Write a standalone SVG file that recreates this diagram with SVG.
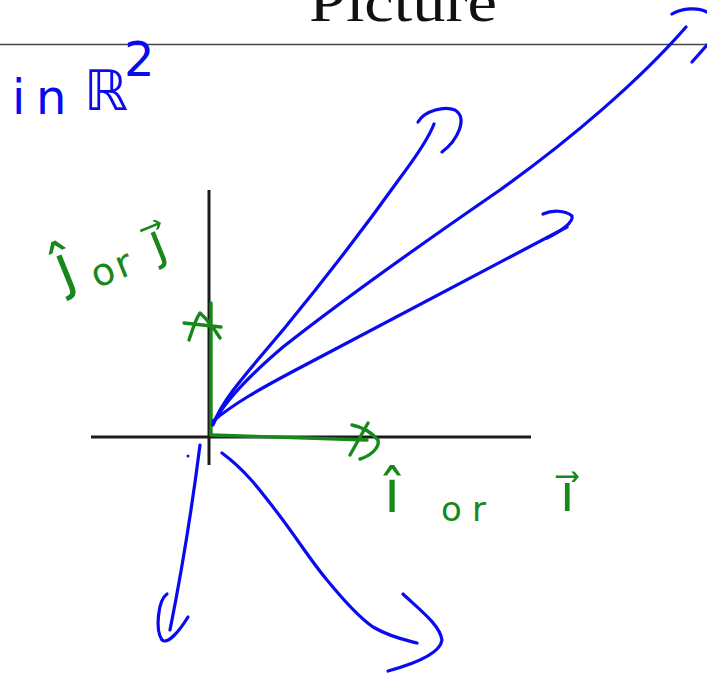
<svg xmlns="http://www.w3.org/2000/svg" width="707" height="676" viewBox="0 0 707 676">
<style>
.blue{fill:none;stroke:#0a0af0;stroke-width:3.2;stroke-linecap:round;stroke-linejoin:round}
.green{fill:none;stroke:#17881a;stroke-width:3.4;stroke-linecap:round;stroke-linejoin:round}
.axis{fill:none;stroke:#1c1c1c;stroke-width:3}
.hand-b{font-family:"DejaVu Sans",sans-serif;fill:#0a0af0}
.hand-g{font-family:"DejaVu Sans",sans-serif;fill:#17881a}
</style>
<rect width="707" height="676" fill="#fff"/>
<g id="title">
<text x="309" y="21" font-family="Liberation Serif, serif" font-size="58" textLength="188" lengthAdjust="spacingAndGlyphs" fill="#111">Picture</text>
<line x1="0" y1="44.5" x2="707" y2="44.5" stroke="#444" stroke-width="1.5"/>
</g>
<g id="axes">
<line class="axis" x1="209" y1="190" x2="209" y2="465"/>
<line class="axis" x1="91" y1="437" x2="531" y2="437"/>
</g>
<g id="connectors">
<g id="unit-j">
<path class="green" d="M211,434 L211,303"/>
<path class="green" d="M189,340 C193,328 196,318 200,313 C208,320 215,330 220,338 M184,323 L221,327"/>
</g>
<g id="unit-i">
<path class="green" d="M211,435 L367,440"/>
<path class="green" d="M352,425 C362,427 372,433 378,440 C380,448 370,456 360,459 M368,423 L350,455"/>
</g>
<g id="vec1">
<path class="blue" d="M213,425 C222,400 245,375 283,330 C320,285 370,220 400,178 C415,158 428,140 434,124"/>
<path class="blue" d="M418,122 C425,110 445,106 455,110 C468,118 458,140 442,152"/>
</g>
<g id="vec2">
<path class="blue" d="M213,424 C225,400 250,375 283,347 C330,310 420,245 500,190 C570,140 640,80 686,27"/>
<path class="blue" d="M672,14 C682,8 698,7 707,12 M692,62 L707,45"/>
</g>
<g id="vec3">
<path class="blue" d="M213,421 C235,403 260,389 290,373 L567,227"/>
<path class="blue" d="M543,214 C552,210 565,210 572,216 C574,222 560,232 547,238"/>
</g>
<g id="vec4">
<path class="blue" d="M200,445 C193,500 180,580 170,630"/>
<path class="blue" d="M167,594 C158,600 155,630 162,640 C168,645 180,630 188,617"/>
<circle cx="188" cy="456" r="1.5" fill="#0a0af0"/>
</g>
<g id="vec5">
<path class="blue" d="M222,453 C245,470 260,490 273,507 C295,535 310,560 327,580 C345,602 360,618 373,627 C390,637 405,640 417,643"/>
<path class="blue" d="M403,594 C420,610 440,625 442,640 C440,655 410,665 388,671"/>
</g>
</g>
<g id="label-space">
<text class="hand-b" font-size="48"><tspan x="12" y="114">i</tspan><tspan x="36" y="114">n</tspan><tspan x="84" y="110" font-size="56">ℝ</tspan><tspan x="124" y="76">2</tspan></text>
</g>
<g id="label-j">
<text class="hand-g" transform="rotate(-22 40 292)"><tspan x="63" y="298" font-size="60">ĵ</tspan><tspan x="94" y="310" font-size="38">o</tspan><tspan x="120" y="310" font-size="38">r</tspan><tspan x="160" y="306" font-size="50">j⃗</tspan></text>
</g>
<g id="label-i">
<text class="hand-g"><tspan x="384" y="512" font-size="58">î</tspan><tspan x="441" y="521" font-size="34">o</tspan><tspan x="472" y="521" font-size="34">r</tspan><tspan x="560" y="511" font-size="52">i⃗</tspan></text>
</g>
</svg>
